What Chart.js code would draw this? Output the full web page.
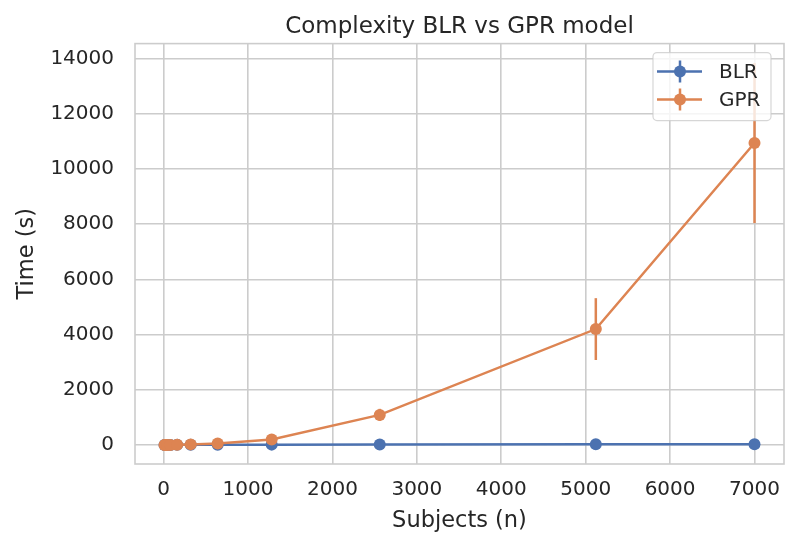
<!DOCTYPE html>
<html>
<head>
<meta charset="utf-8">
<title>Complexity BLR vs GPR model</title>
<script src="https://cdn.jsdelivr.net/npm/chart.js@4"></script>
<style>
    body { margin: 0; background: #ffffff; }
    #wrap { width: 800px; height: 549px; }
</style>
</head>
<body>
<div id="wrap"><canvas id="myChart" width="800" height="549"></canvas></div>
<script>
    // data
    const subjects = [10, 20, 40, 80, 160, 320, 640, 1280, 2560, 5120, 7000];
    const blrTime = [1, 1, 2, 3, 4, 6, 9, 13, 18, 24, 30];
    const blrErr = [0, 0, 0, 0, 1, 1, 1, 2, 2, 3, 3];
    const gprTime = [0.2, 0.5, 1, 3, 8, 22, 50, 200, 1090, 4200, 10940];
    const gprErr = [0, 0, 0, 1, 2, 5, 12, 40, 220, 1120, 2900];
    const yTicks = [0, 2000, 4000, 6000, 8000, 10000, 12000, 14000];
    const xTicks = [0, 1000, 2000, 3000, 4000, 5000, 6000, 7000];

    const blue = "#4c72b0";
    const orange = "#dd8452";
    const textColor = "#262626";
    const gridColor = "#cccccc";

    Chart.defaults.font.family = "'DejaVu Sans', sans-serif";
    Chart.defaults.color = textColor;

    //make {x,y} points for a series
    let toPoints = (ys) => subjects.map((x, i) => ({x: x, y: ys[i]}));

    // frame around the plot area (seaborn whitegrid spines)
    const framePlugin = {
        id: "frame",
        beforeDatasetsDraw(chart) {
            const {ctx, chartArea: a} = chart;
            ctx.save();
            ctx.strokeStyle = gridColor;
            ctx.lineWidth = 1.6;
            ctx.strokeRect(a.left, a.top, a.right - a.left, a.bottom - a.top);
            ctx.restore();
        }
    };

    // vertical error bars, drawn through the chart scales
    const errorBarPlugin = {
        id: "errorBars",
        beforeDatasetsDraw(chart) {
            const {ctx, scales} = chart;
            ctx.save();
            chart.data.datasets.forEach((ds) => {
                ctx.strokeStyle = ds.borderColor;
                ctx.lineWidth = 2.5;
                ds.data.forEach((p, i) => {
                    let e = ds.errors[i];
                    if (!e) return;
                    let px = scales.x.getPixelForValue(p.x);
                    ctx.beginPath();
                    ctx.moveTo(px, scales.y.getPixelForValue(p.y - e));
                    ctx.lineTo(px, scales.y.getPixelForValue(p.y + e));
                    ctx.stroke();
                });
            });
            ctx.restore();
        }
    };

    // matplotlib style legend box in the top right corner
    const legendPlugin = {
        id: "mplLegend",
        afterDraw(chart) {
            const ctx = chart.ctx;
            const a = chart.chartArea;
            let boxX = a.right - 131, boxY = a.top + 9, boxW = 118, boxH = 68;
            ctx.save();
            ctx.beginPath();
            ctx.roundRect(boxX, boxY, boxW, boxH, 4);
            ctx.fillStyle = "rgba(255,255,255,0.8)";
            ctx.fill();
            ctx.strokeStyle = "rgba(204,204,204,0.8)";
            ctx.lineWidth = 1.2;
            ctx.stroke();

            chart.data.datasets.forEach((ds, i) => {
                let y = boxY + 19 + i * 28;
                let x0 = boxX + 4, x1 = boxX + 49, xm = boxX + 27;
                ctx.strokeStyle = ds.borderColor;
                ctx.fillStyle = ds.borderColor;
                ctx.lineWidth = 2.5;
                ctx.beginPath();
                ctx.moveTo(x0, y);
                ctx.lineTo(x1, y);
                ctx.moveTo(xm, y - 11);
                ctx.lineTo(xm, y + 11);
                ctx.stroke();
                ctx.beginPath();
                ctx.arc(xm, y, 6, 0, Math.PI * 2);
                ctx.fill();

                ctx.fillStyle = textColor;
                ctx.font = "20px 'DejaVu Sans'";
                ctx.textBaseline = "middle";
                ctx.textAlign = "left";
                ctx.fillText(ds.label, boxX + 66, y + 1);
            });
            ctx.restore();
        }
    };

    // plain numbers on the ticks, no thousands separator
    let plainTick = (value) => String(value);

    const ctx = document.getElementById("myChart");
    const myChart = new Chart(ctx, {
        type: "scatter",
        data: {
            datasets: [
                {
                    label: "BLR",
                    data: toPoints(blrTime),
                    errors: blrErr,
                    order: 1,
                    showLine: true,
                    borderColor: blue,
                    backgroundColor: blue,
                    borderWidth: 2.5,
                    pointRadius: 6,
                    pointBorderWidth: 0,
                    pointHoverRadius: 6
                },
                {
                    label: "GPR",
                    data: toPoints(gprTime),
                    errors: gprErr,
                    order: 0,   // drawn on top of BLR
                    showLine: true,
                    borderColor: orange,
                    backgroundColor: orange,
                    borderWidth: 2.5,
                    pointRadius: 6,
                    pointBorderWidth: 0,
                    pointHoverRadius: 6
                }
            ]
        },
        options: {
            responsive: false,
            animation: false,
            layout: { padding: { left: 0, right: 16, top: 0, bottom: 0 } },
            plugins: {
                legend: { display: false },
                tooltip: { enabled: false },
                title: {
                    display: true,
                    fullSize: false,   // centre over the plot area
                    text: "Complexity BLR vs GPR model",
                    color: textColor,
                    font: { size: 23, weight: "normal" },
                    padding: { top: 13, bottom: 3 }
                }
            },
            scales: {
                x: {
                    type: "linear",
                    min: -339.5,
                    max: 7349.5,
                    afterBuildTicks: (scale) => { scale.ticks = xTicks.map(v => ({value: v})); },
                    afterFit: (scale) => { scale.height = 85; },
                    grid: { color: gridColor, lineWidth: 1.6, drawTicks: false },
                    border: { display: false },
                    ticks: { color: textColor, font: { size: 20 }, padding: 14, maxRotation: 0, callback: plainTick },
                    title: {
                        display: true,
                        text: "Subjects (n)",
                        color: textColor,
                        font: { size: 22.5 },
                        padding: { top: 0, bottom: 14 }
                    }
                },
                y: {
                    type: "linear",
                    min: -689,
                    max: 14544,
                    afterBuildTicks: (scale) => { scale.ticks = yTicks.map(v => ({value: v})); },
                    afterFit: (scale) => { scale.width = 135; },
                    grid: { color: gridColor, lineWidth: 1.6, drawTicks: false },
                    border: { display: false },
                    ticks: { color: textColor, font: { size: 20 }, padding: 21, callback: plainTick },
                    title: {
                        display: true,
                        text: "Time (s)",
                        color: textColor,
                        font: { size: 22.5 },
                        padding: { top: 14, bottom: 0 }
                    }
                }
            }
        },
        plugins: [framePlugin, errorBarPlugin, legendPlugin]
    });
</script>
</body>
</html>
